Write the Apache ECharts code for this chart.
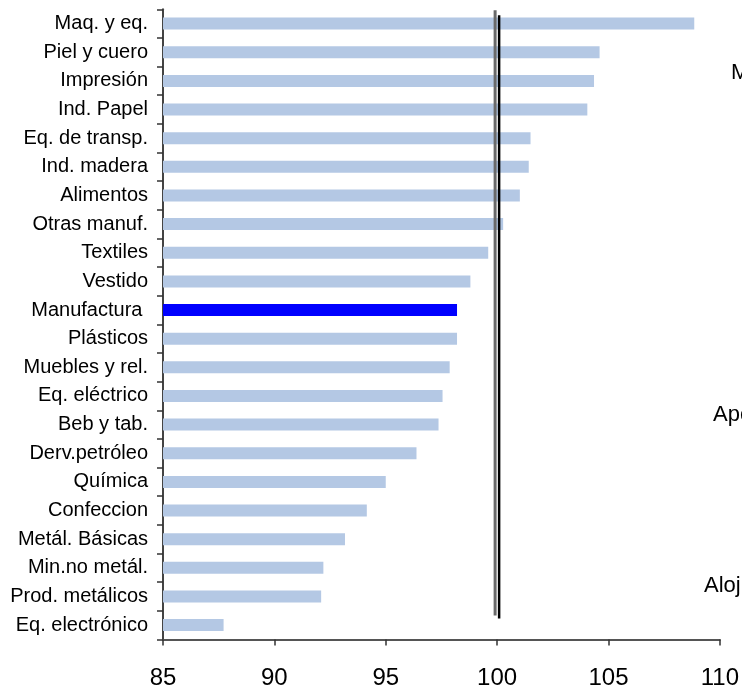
<!DOCTYPE html>
<html>
<head>
<meta charset="utf-8">
<script src="https://cdn.jsdelivr.net/npm/echarts@6/dist/echarts.min.js"></script>
<style>
  html, body { margin: 0; padding: 0; background: #fff; }
  #chart { width: 742px; height: 691px; }
</style>
</head>
<body>
<div id="chart"></div>
<script>
// Sector names, top to bottom
const categories = [
  'Maq. y eq.', 'Piel y cuero', 'Impresión', 'Ind. Papel', 'Eq. de transp.',
  'Ind. madera', 'Alimentos', 'Otras manuf.', 'Textiles', 'Vestido',
  'Manufactura ', 'Plásticos', 'Muebles y rel.', 'Eq. eléctrico', 'Beb y tab.',
  'Derv.petróleo', 'Química', 'Confeccion', 'Metál. Básicas', 'Min.no metál.',
  'Prod. metálicos', 'Eq. electrónico'
];

// Index values per sector
const values = [
  108.85, 104.6, 104.35, 104.05, 101.5,
  101.42, 101.02, 100.27, 99.6, 98.8,
  98.2, 98.2, 97.87, 97.55, 97.37,
  96.38, 95.0, 94.15, 93.17, 92.2,
  92.1, 87.72
];

const highlighted = 'Manufactura ';

// Reference lines around 100 (x value, vertical extent on the helper axis)
const refLineGray = [[99.91, 24], [99.91, 629]];
const refLineBlack = [[100.09, 21], [100.09, 624]];

// x-axis tick settings
const xMin = 85, xMax = 110, xStep = 5;

const FONT = '"Liberation Sans", Arial, sans-serif';

const chart = echarts.init(document.getElementById('chart'), null, { renderer: 'canvas' });

chart.setOption({
  animation: false,
  backgroundColor: '#ffffff',
  grid: { left: 163, right: 17.5, top: 9.3, bottom: 51.6, containLabel: false },
  xAxis: {
    type: 'value',
    min: xMin, max: xMax, interval: xStep,
    axisLine: { show: true, lineStyle: { color: '#555555', width: 2 } },
    axisTick: { show: true, inside: false, length: 6, lineStyle: { color: '#333333', width: 1.5 } },
    splitLine: { show: false },
    axisLabel: { color: '#000000', fontFamily: FONT, fontSize: 24, margin: 27 }
  },
  yAxis: [
    {
      type: 'category',
      data: categories,
      inverse: true,
      axisLine: { show: true, lineStyle: { color: '#444444', width: 2 } },
      axisTick: { show: true, inside: false, length: 6, lineStyle: { color: '#333333', width: 1.5 } },
      axisLabel: { color: '#000000', fontFamily: FONT, fontSize: 20, margin: 15 },
      splitLine: { show: false }
    },
    {
      type: 'value',
      min: 0, max: 630,
      show: false
    }
  ],
  series: [
    {
      type: 'bar',
      yAxisIndex: 0,
      barWidth: 12,
      data: values.map((v, i) => ({
        value: v,
        itemStyle: { color: categories[i] === highlighted ? '#0000ff' : '#b4c8e4' }
      })),
      silent: true
    },
    {
      type: 'line',
      yAxisIndex: 1,
      data: refLineGray,
      symbol: 'none',
      lineStyle: { color: '#6a6a6a', width: 3 },
      silent: true,
      z: 5
    },
    {
      type: 'line',
      yAxisIndex: 1,
      data: refLineBlack,
      symbol: 'none',
      lineStyle: { color: '#000000', width: 2.5 },
      silent: true,
      z: 6
    }
  ],
  graphic: [
    { type: 'text', left: 731, top: 62, style: { text: 'M', font: '22px ' + FONT, fill: '#000' } },
    { type: 'text', left: 713, top: 404, style: { text: 'Apo', font: '22px ' + FONT, fill: '#000' } },
    { type: 'text', left: 704, top: 575, style: { text: 'Aloj', font: '22px ' + FONT, fill: '#000' } }
  ]
});
</script>
</body>
</html>
